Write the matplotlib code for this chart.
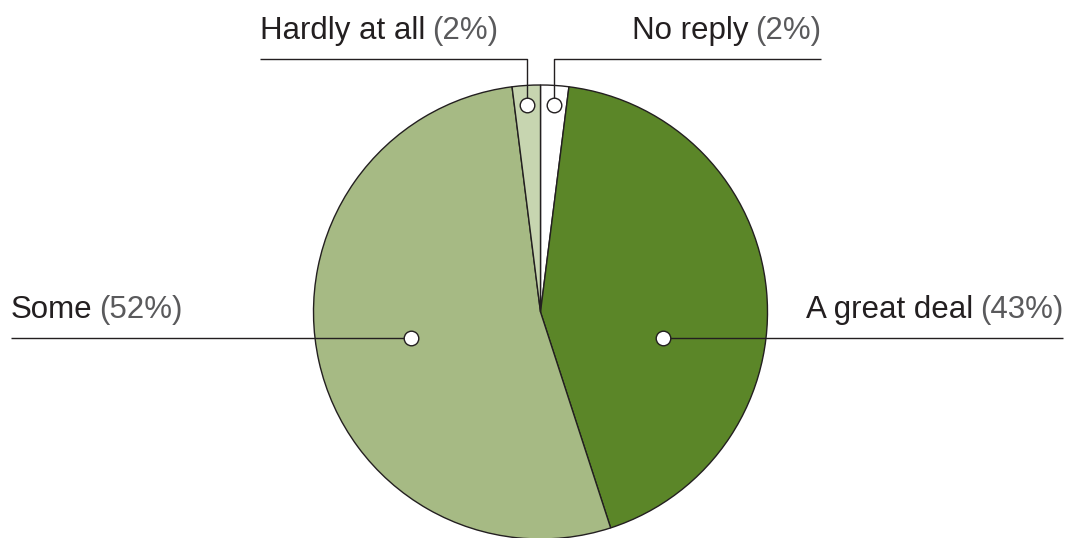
import matplotlib
matplotlib.use('Agg')
import matplotlib.pyplot as plt
import numpy as np

# survey answers, clockwise from the top
answers = ['No reply', 'A great deal', 'Some', 'Hardly at all']
# slice sizes as drawn in the picture, and the rounded shares printed in the labels
slice_sizes = [2.0, 43.0, 53.0, 2.0]
label_pcts = [2, 43, 52, 2]
slice_colors = ['#ffffff', '#5b8628', '#a6ba84', '#c7d5b0']

W, H = 1072, 538
DARK = '#231f20'
GREY = '#5a5a5c'
FS = 22.5
GAP = 4.5  # points between the words and the percentage

plt.rcParams['font.family'] = ['Liberation Sans', 'DejaVu Sans']

fig = plt.figure(figsize=(W / 100, H / 100), dpi=100)
ax = fig.add_axes([0, 0, 1, 1])

cx, cy, r = 540.5, H - 312, 227
wedges, _ = ax.pie(slice_sizes, colors=slice_colors, startangle=90,
                   counterclock=False, center=(cx, cy), radius=r,
                   wedgeprops=dict(edgecolor=DARK, linewidth=1.0),
                   frame=True)
ax.set_xlim(0, W)
ax.set_ylim(0, H)
ax.set_aspect('equal')
ax.axis('off')

mid_angle = {}
for w, name in zip(wedges, answers):
    mid_angle[name] = np.deg2rad((w.theta1 + w.theta2) / 2)


def dot(x, y):
    ax.plot(x, y, 'o', ms=10.5, mfc='white', mec=DARK, mew=1.0, zorder=5)


def two_tone(x, y, main, pct, ha):
    # main words in dark, the percentage in grey next to them
    if ha == 'left':
        t = ax.text(x, y, main, ha='left', va='baseline', fontsize=FS, color=DARK)
        ax.annotate(pct, xy=(1, y), xycoords=(t, 'data'), xytext=(GAP, 0),
                    textcoords='offset points', ha='left', va='baseline',
                    fontsize=FS, color=GREY)
    else:
        t = ax.text(x, y, pct, ha='right', va='baseline', fontsize=FS, color=GREY)
        ax.annotate(main, xy=(0, y), xycoords=(t, 'data'), xytext=(-GAP, 0),
                    textcoords='offset points', ha='right', va='baseline',
                    fontsize=FS, color=DARK)


line_kw = dict(color=DARK, lw=1.0, zorder=4, solid_capstyle='butt')

# thin slices: dot near the rim, elbow line up to the top
top_line_y = H - 59
for name, x_end, ha in [('Hardly at all', 260, 'left'),
                        ('No reply', 821, 'right')]:
    a = mid_angle[name]
    px = cx + 0.915 * r * np.cos(a)
    py = cy + 0.915 * r * np.sin(a)
    ax.plot([px, px, x_end], [py, top_line_y, top_line_y], **line_kw)
    dot(px, py)
    pct = label_pcts[answers.index(name)]
    two_tone(x_end, H - 39, name, f'({pct}%)', ha)

# big slices: dot inside, straight line out to the side
side_y = H - 338
for name, px, x_end, ha in [('Some', 411, 11, 'left'),
                            ('A great deal', 663, 1063, 'right')]:
    ax.plot([px, x_end], [side_y, side_y], **line_kw)
    dot(px, side_y)
    pct = label_pcts[answers.index(name)]
    two_tone(x_end, H - 318, name, f'({pct}%)', ha)

fig.savefig('out.png', dpi=100, facecolor='white')
